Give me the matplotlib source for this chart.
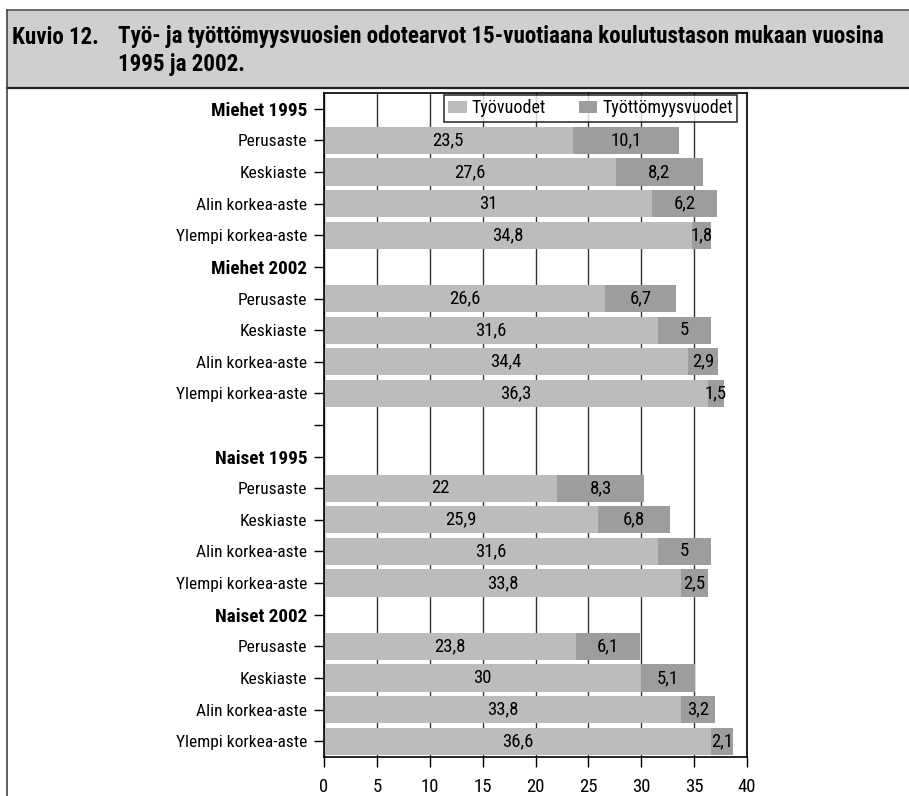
import numpy as np
import matplotlib
matplotlib.use("Agg")
import matplotlib.pyplot as plt
from matplotlib.patches import Rectangle
from matplotlib.lines import Line2D

plt.rcParams['font.family'] = ['Liberation Sans Narrow', 'DejaVu Sans Condensed',
                               'Roboto Condensed', 'Roboto', 'DejaVu Sans']

# ---------------- data ----------------
levels = ["Perusaste", "Keskiaste", "Alin korkea-aste", "Ylempi korkea-aste"]
groups = ["Miehet 1995", "Miehet 2002", "Naiset 1995", "Naiset 2002"]

tyo_m1995 = [23.5, 27.6, 31, 34.8]
tyot_m1995 = [10.1, 8.2, 6.2, 1.8]
tyo_m2002 = [26.6, 31.6, 34.4, 36.3]
tyot_m2002 = [6.7, 5, 2.9, 1.5]
tyo_n1995 = [22, 25.9, 31.6, 33.8]
tyot_n1995 = [8.3, 6.8, 5, 2.5]
tyo_n2002 = [23.8, 30, 33.8, 36.6]
tyot_n2002 = [6.1, 5.1, 3.2, 2.1]

series_names = ["Työvuodet", "Työttömyysvuodet"]
title_num = "Kuvio 12."
title_line1 = "Työ- ja työttömyysvuosien odotearvot 15-vuotiaana koulutustason mukaan vuosina"
title_line2 = "1995 ja 2002."

# build the row list (group header, 4 levels), blank row between men and women
rows, tyo, tyot, bold = [], [], [], []
blocks = [(groups[0], tyo_m1995, tyot_m1995), (groups[1], tyo_m2002, tyot_m2002),
          None,
          (groups[2], tyo_n1995, tyot_n1995), (groups[3], tyo_n2002, tyot_n2002)]
for b in blocks:
    if b is None:
        rows.append(""); tyo.append(np.nan); tyot.append(np.nan); bold.append(False)
        continue
    g, a, u = b
    rows.append(g); tyo.append(np.nan); tyot.append(np.nan); bold.append(True)
    for lv, x1, x2 in zip(levels, a, u):
        rows.append(lv); tyo.append(x1); tyot.append(x2); bold.append(False)
tyo = np.array(tyo, dtype=float)
tyot = np.array(tyot, dtype=float)
ypos = np.arange(len(rows))

c_light = '#bcbcbc'
c_dark = '#9d9d9d'


def fmt(v):
    s = ('%.1f' % v).rstrip('0').rstrip('.')
    return s.replace('.', ',')


fig = plt.figure(figsize=(9.09, 7.96), dpi=100)
W, H = 909, 796

# title box + outer frame line
fig.patches.append(Rectangle((7 / W, 1 - 88 / H), (W - 7) / W, 78 / H, transform=fig.transFigure,
                             facecolor='#cfcfcf', edgecolor='none', zorder=0))
fig.add_artist(Line2D([7 / W, 1], [1 - 10 / H] * 2, color='#555555', lw=1.2, transform=fig.transFigure))
fig.add_artist(Line2D([7 / W, 1], [1 - 88 / H] * 2, color='#222222', lw=1.6, transform=fig.transFigure))
fig.add_artist(Line2D([7 / W] * 2, [0, 1 - 10 / H], color='#444444', lw=1.2, transform=fig.transFigure))

t0 = fig.text(12 / W, 1 - 37 / H, title_num, fontsize=15, fontweight='bold', va='center', ha='left')
t1 = fig.text(118 / W, 1 - 37 / H, title_line1, fontsize=15, fontweight='bold', va='center', ha='left')
t2 = fig.text(118 / W, 1 - 65 / H, title_line2, fontsize=15, fontweight='bold', va='center', ha='left')
# scale the title to the width it has in the original
r = fig.canvas.get_renderer()
wid = t1.get_window_extent(r).width
fs = min(19, 15 * 766 / wid)
for t in (t0, t1, t2):
    t.set_fontsize(fs)

ax = fig.add_axes([324 / W, 1 - 757 / H, 423 / W, 664 / H])

h = 0.86
ax.barh(ypos, tyo, height=h, color=c_light, zorder=2, label=series_names[0])
ax.barh(ypos, tyot, left=tyo, height=h, color=c_dark, zorder=2, label=series_names[1])

for y, a, u in zip(ypos, tyo, tyot):
    if np.isnan(a):
        continue
    ax.text(a / 2, y, fmt(a), ha='center', va='center', fontsize=13.5, zorder=3)
    ax.text(a + u / 2, y, fmt(u), ha='center', va='center', fontsize=13.5, zorder=3)

ax.set_xlim(0, 40)
ax.set_ylim(len(rows) - 0.5, -0.5)
ax.set_xticks(np.arange(0, 41, 5))
ax.set_yticks(ypos)
ax.set_yticklabels(rows)
ax.tick_params(axis='y', length=7, width=1, pad=5, labelsize=12.5)
ax.tick_params(axis='x', length=7, width=1, pad=8, labelsize=13.5)
for lab, b in zip(ax.get_yticklabels(), bold):
    if b:
        lab.set_fontweight('bold')
        lab.set_fontsize(13.8)
ax.xaxis.grid(True, color='#333333', lw=1)
ax.set_axisbelow(True)
for s in ax.spines.values():
    s.set_linewidth(1.2)

leg = ax.legend(loc='upper right', bbox_to_anchor=(0.981, 1.0), ncol=2, frameon=True,
                fancybox=False, borderaxespad=0.1, fontsize=13, handlelength=1.0,
                handleheight=0.6, handletextpad=0.3, columnspacing=1.8, borderpad=0.25)
leg.get_frame().set_edgecolor('black')
leg.get_frame().set_linewidth(1.2)

fig.savefig('out.png', dpi=100)
